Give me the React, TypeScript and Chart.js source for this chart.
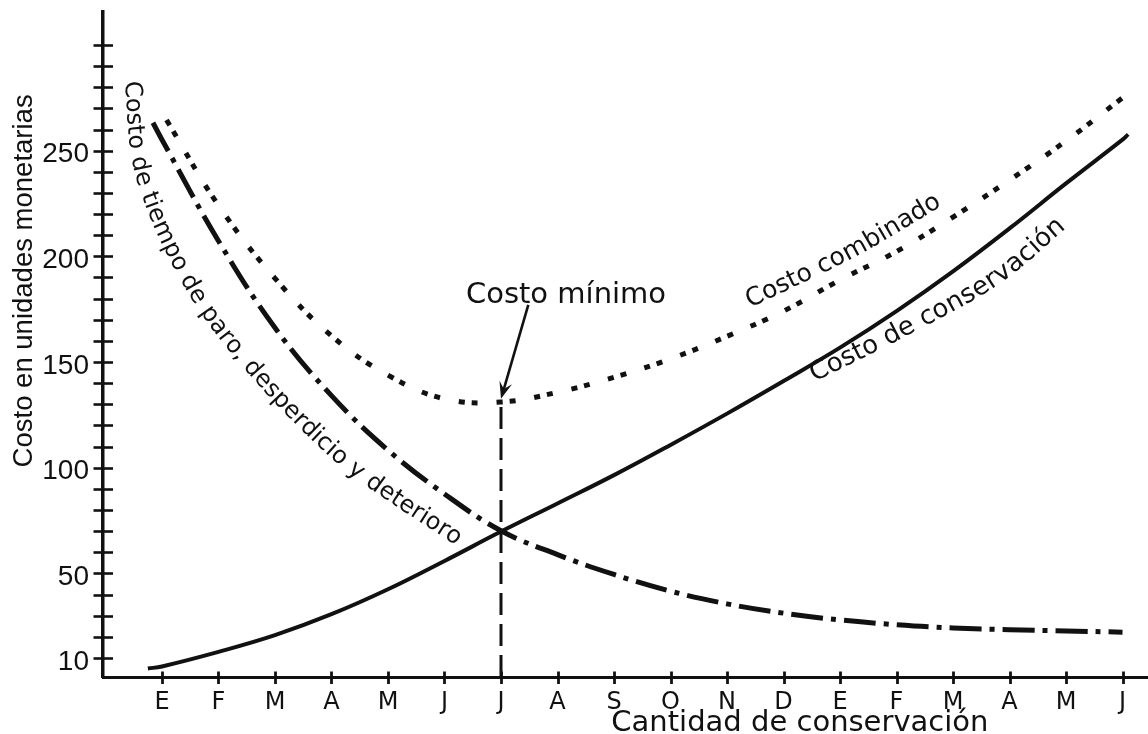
import React, { useEffect, useRef } from 'react';
import { Chart, registerables } from 'chart.js';

Chart.register(...registerables);

// ---------- data ----------
const monthLabels = ['E', 'F', 'M', 'A', 'M', 'J', 'J', 'A', 'S', 'O', 'N', 'D', 'E', 'F', 'M', 'A', 'M', 'J'];
const yTickValues = [10, 20, 30, 40, 50, 60, 70, 80, 90, 100, 110, 120, 130, 140, 150, 160, 170, 180, 190, 200, 210, 220, 230, 240, 250, 260, 270, 280, 290, 300];
const yLabelValues = [10, 50, 100, 150, 200, 250];

const conservationX = [-0.25, 0, 1, 2, 3, 4, 5, 6, 7, 8, 9, 10, 11, 12, 13, 14, 15, 16, 17, 17.1];
const conservationCost = [5, 6, 12.9, 20.8, 30.7, 42.5, 55.9, 69.8, 83.1, 96.5, 110.8, 125.6, 141, 156.8, 174.1, 192.9, 213.2, 234.5, 255.2, 257.7];

const downtimeX = [-0.16, 0, 1, 2, 3, 4, 5, 6, 7, 8, 9, 10, 11, 12, 13, 14, 15, 16, 17];
const downtimeCost = [263.2, 255.2, 207.3, 166.2, 134.1, 108.3, 87.6, 70.2, 58.9, 49.5, 41.6, 35.6, 31.2, 28, 25.7, 24.2, 23.4, 22.8, 22.2];

const combinedX = [0.08, 1, 2, 3, 4, 5, 6, 7, 8, 9, 10, 11, 12, 13, 14, 15, 16, 17];
const combinedCost = [264.5, 224.1, 189.6, 162.4, 143.8, 132.6, 131.1, 135.7, 142.8, 151.5, 162.2, 174.1, 188.8, 202.3, 218.6, 236.1, 254.6, 275];

// axis ranges
const Y_MIN = 1;
const Y_MAX = 315.6;
const X_MIN = -1.044;
const X_MAX = 17.451;

// minimum of the combined cost
const minIndex = combinedCost.indexOf(Math.min(...combinedCost));
const minMonth = combinedX[minIndex];
const minCost = combinedCost[minIndex];

// ---------- annotation placement (data coordinates) ----------
const downtimeLabelPath = [[-0.531, 277.7], [-0.354, 238.0], [0.407, 191.1], [1.469, 151.0], [3.204, 103.7], [5.097, 68.7]];
const combinedLabelPath = [[10.354, 178.4], [12.177, 202.0], [13.752, 226.7]];
const conservationLabelPath = [[11.593, 144.8], [13.009, 163.7], [14.708, 188.8], [15.841, 213.9]];
const minimumLabelAnchor = [7.15, 177.9];
const arrowStart = [6.483, 177.0];

const INK = '#111111';
const SANS = '"Liberation Sans", Arial, Helvetica, sans-serif';
const WIDE = '"DejaVu Sans", Verdana, sans-serif';

const toPoints = (xs: number[], ys: number[]) => xs.map((x, i) => ({ x, y: ys[i] }));

type P = { x: number; y: number };

function catmull(pts: P[], steps = 24): P[] {
  const out: P[] = [];
  const n = pts.length;
  const g = (i: number) => pts[Math.max(0, Math.min(n - 1, i))];
  for (let i = 0; i < n - 1; i++) {
    const p0 = g(i - 1), p1 = g(i), p2 = g(i + 1), p3 = g(i + 2);
    for (let s = 0; s < steps; s++) {
      const t = s / steps, t2 = t * t, t3 = t2 * t;
      const f = (a: number, b: number, c: number, d: number) =>
        0.5 * (2 * b + (-a + c) * t + (2 * a - 5 * b + 4 * c - d) * t2 + (-a + 3 * b - 3 * c + d) * t3);
      out.push({ x: f(p0.x, p1.x, p2.x, p3.x), y: f(p0.y, p1.y, p2.y, p3.y) });
    }
  }
  out.push(pts[n - 1]);
  return out;
}

function textAlongPath(ctx: CanvasRenderingContext2D, text: string, pts: P[], font: string) {
  ctx.save();
  ctx.font = font;
  ctx.fillStyle = INK;
  ctx.textAlign = 'center';
  ctx.textBaseline = 'middle';
  const poly = catmull(pts);
  const cum = [0];
  for (let i = 1; i < poly.length; i++) {
    cum.push(cum[i - 1] + Math.hypot(poly[i].x - poly[i - 1].x, poly[i].y - poly[i - 1].y));
  }
  const L = cum[cum.length - 1];
  const at = (s: number): P => {
    if (s <= 0) {
      const a = poly[0], b = poly[1];
      const d = Math.hypot(b.x - a.x, b.y - a.y) || 1;
      return { x: a.x + ((b.x - a.x) / d) * s, y: a.y + ((b.y - a.y) / d) * s };
    }
    if (s >= L) {
      const a = poly[poly.length - 2], b = poly[poly.length - 1];
      const d = Math.hypot(b.x - a.x, b.y - a.y) || 1;
      return { x: b.x + ((b.x - a.x) / d) * (s - L), y: b.y + ((b.y - a.y) / d) * (s - L) };
    }
    let i = 1;
    while (cum[i] < s) i++;
    const t = (s - cum[i - 1]) / (cum[i] - cum[i - 1] || 1);
    return { x: poly[i - 1].x + (poly[i].x - poly[i - 1].x) * t, y: poly[i - 1].y + (poly[i].y - poly[i - 1].y) * t };
  };
  const W = ctx.measureText(text).width;
  const s0 = (L - W) / 2;
  for (let i = 0; i < text.length; i++) {
    const ch = text[i];
    const before = ctx.measureText(text.slice(0, i)).width;
    const w = ctx.measureText(ch).width;
    const s = s0 + before + w / 2;
    const p = at(s);
    const h = Math.max(w / 2, 5);
    const pa = at(s - h), pb = at(s + h);
    const ang = Math.atan2(pb.y - pa.y, pb.x - pa.x);
    ctx.save();
    ctx.translate(p.x, p.y);
    ctx.rotate(ang);
    ctx.fillText(ch, 0, 0);
    ctx.restore();
  }
  ctx.restore();
}

const sketchPlugin = {
  id: 'sketchAnnotations',
  afterDraw(chart: any) {
    const { ctx } = chart;
    const xs = chart.scales.x;
    const ys = chart.scales.y;
    const X = (v: number) => xs.getPixelForValue(v);
    const Y = (v: number) => ys.getPixelForValue(v);
    const conv = (arr: number[][]) => arr.map(([a, b]) => ({ x: X(a), y: Y(b) }));

    ctx.save();
    ctx.strokeStyle = INK;
    ctx.fillStyle = INK;
    ctx.lineCap = 'butt';

    // y tick marks crossing the axis
    const axX = xs.left;
    ctx.lineWidth = 2.6;
    ys.ticks.forEach((t: any) => {
      const py = Math.round(Y(t.value)) + 0.5;
      ctx.beginPath();
      ctx.moveTo(axX - 9.5, py);
      ctx.lineTo(axX + 10, py);
      ctx.stroke();
    });

    // x tick marks crossing the axis
    const axY = ys.bottom;
    ctx.lineWidth = 2.8;
    xs.ticks.forEach((t: any) => {
      const px = Math.round(X(t.value)) + 0.5;
      ctx.beginPath();
      ctx.moveTo(px, axY - 5.5);
      ctx.lineTo(px, axY + 7);
      ctx.stroke();
    });

    // arrow to the minimum
    const sx = X(arrowStart[0]), sy = Y(arrowStart[1]);
    const tx = X(minMonth), ty = Y(minCost + 1.5);
    const ang = Math.atan2(ty - sy, tx - sx);
    const c = Math.cos(ang), s = Math.sin(ang);
    const len = 17, half = 6.5;
    ctx.lineWidth = 2.6;
    ctx.beginPath();
    ctx.moveTo(sx, sy);
    ctx.lineTo(tx - c * len * 0.6, ty - s * len * 0.6);
    ctx.stroke();
    ctx.beginPath();
    ctx.moveTo(tx, ty);
    ctx.lineTo(tx - len * c + half * s, ty - len * s - half * c);
    ctx.lineTo(tx - len * 0.6 * c, ty - len * 0.6 * s);
    ctx.lineTo(tx - len * c - half * s, ty - len * s + half * c);
    ctx.closePath();
    ctx.fill();

    // "Costo mínimo"
    ctx.font = `29px ${WIDE}`;
    ctx.textAlign = 'center';
    ctx.textBaseline = 'alphabetic';
    ctx.fillText('Costo mínimo', X(minimumLabelAnchor[0]), Y(minimumLabelAnchor[1]));

    // curved labels
    textAlongPath(ctx, 'Costo de tiempo de paro, desperdicio y deterioro', conv(downtimeLabelPath), `24px ${WIDE}`);
    textAlongPath(ctx, 'Costo combinado', conv(combinedLabelPath), `25px ${WIDE}`);
    textAlongPath(ctx, 'Costo de conservación', conv(conservationLabelPath), `26px ${WIDE}`);

    // axis titles
    ctx.font = `27.5px ${SANS}`;
    ctx.textAlign = 'center';
    ctx.textBaseline = 'alphabetic';
    ctx.save();
    ctx.translate(32, Y(188.4));
    ctx.rotate(-Math.PI / 2);
    ctx.fillText('Costo en unidades monetarias', 0, 0);
    ctx.restore();

    ctx.font = `29px ${WIDE}`;
    ctx.fillText('Cantidad de conservación', X(11.29), ys.bottom + 54);

    ctx.restore();
  },
};

export default function App() {
  const ref = useRef<HTMLCanvasElement | null>(null);

  useEffect(() => {
    if (!ref.current) return;
    const common = { borderColor: INK, pointRadius: 0, pointHoverRadius: 0, fill: false, tension: 0.4 };
    const chart = new Chart(ref.current, {
      type: 'line',
      data: {
        datasets: [
          { ...common, label: 'Costo de conservación', data: toPoints(conservationX, conservationCost), borderWidth: 4 },
          { ...common, label: 'Costo de tiempo de paro, desperdicio y deterioro', data: toPoints(downtimeX, downtimeCost), borderWidth: 5, borderDash: [32, 8, 5, 8] },
          { ...common, label: 'Costo combinado', data: toPoints(combinedX, combinedCost), borderWidth: 5, borderDash: [6, 7, 6, 19] },
          {
            ...common,
            label: 'Costo mínimo',
            data: [{ x: minMonth, y: Y_MIN }, { x: minMonth, y: minCost }],
            borderWidth: 3,
            borderDash: [22, 9],
            tension: 0,
          },
        ],
      },
      options: {
        animation: false,
        responsive: true,
        maintainAspectRatio: false,
        layout: { padding: { top: 12, left: 0, right: 0, bottom: 0 } },
        plugins: { legend: { display: false }, tooltip: { enabled: false } },
        events: [],
        scales: {
          x: {
            type: 'linear',
            min: X_MIN,
            max: X_MAX,
            grid: { display: false, drawTicks: false },
            border: { display: true, width: 3, color: INK },
            afterBuildTicks: (scale: any) => {
              scale.ticks = monthLabels.map((_, i) => ({ value: i }));
            },
            afterFit: (scale: any) => {
              scale.height = 57;
              scale.paddingLeft = 0;
              scale.paddingRight = 0;
            },
            ticks: {
              autoSkip: false,
              maxRotation: 0,
              minRotation: 0,
              padding: 11,
              color: INK,
              font: { family: WIDE, size: 24 },
              callback: (_v: any, i: number) => monthLabels[i] ?? '',
            },
          },
          y: {
            type: 'linear',
            min: Y_MIN,
            max: Y_MAX,
            grid: { display: false, drawTicks: false },
            border: { display: true, width: 3.5, color: INK },
            afterBuildTicks: (scale: any) => {
              scale.ticks = yTickValues.map((v) => ({ value: v }));
            },
            afterFit: (scale: any) => {
              scale.width = 103;
              scale.paddingTop = 0;
              scale.paddingBottom = 0;
            },
            ticks: {
              autoSkip: false,
              padding: 14,
              labelOffset: 4,
              color: INK,
              font: { family: SANS, size: 28 },
              callback: (v: any) => (yLabelValues.includes(Number(v)) ? String(v) : ''),
            },
          },
        },
      },
      plugins: [sketchPlugin],
    });
    return () => chart.destroy();
  }, []);

  return (
    <div style={{ position: 'fixed', left: 0, top: 0, width: 1148, height: 734, background: '#fff' }}>
      <canvas ref={ref} />
    </div>
  );
}
